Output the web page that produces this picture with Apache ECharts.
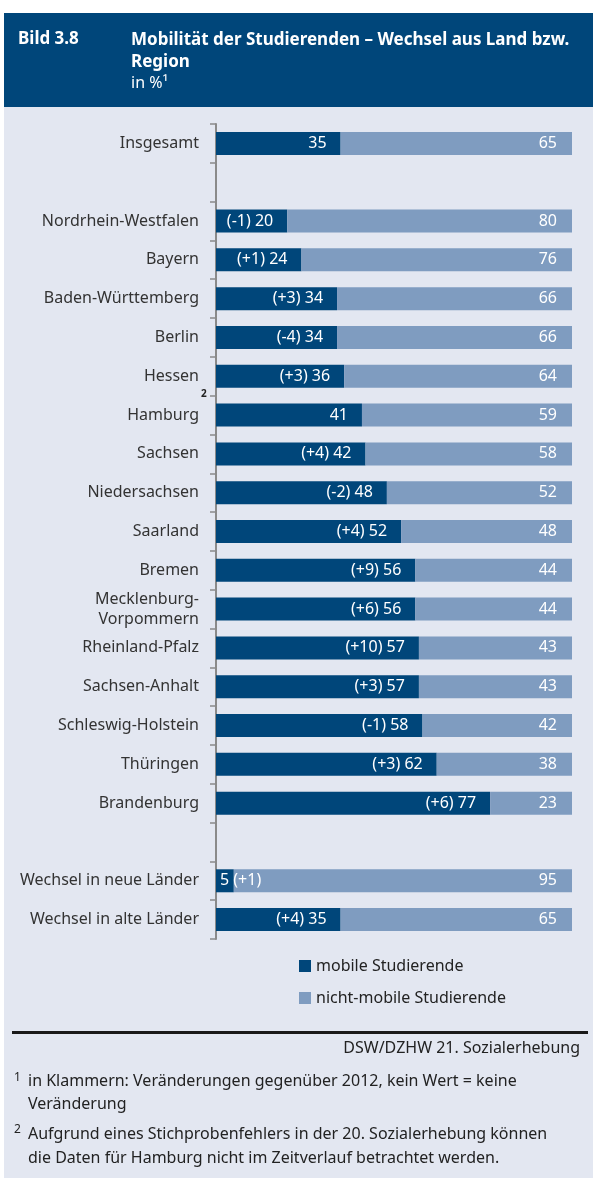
<!DOCTYPE html>
<html><head><meta charset="utf-8">
<script src="https://cdn.jsdelivr.net/npm/echarts@6/dist/echarts.min.js"></script>
<style>html,body{margin:0;padding:0;background:#fff}#c{width:593px;height:1178px}</style>
</head><body><div id="c"></div>
<script>
const categories = ['Insgesamt','','Nordrhein-Westfalen','Bayern','Baden-Württemberg','Berlin','Hessen','Hamburg','Sachsen','Niedersachsen','Saarland','Bremen','Mecklenburg-\nVorpommern','Rheinland-Pfalz','Sachsen-Anhalt','Schleswig-Holstein','Thüringen','Brandenburg','','Wechsel in neue Länder','Wechsel in alte Länder'];
const mobile = [35,null,20,24,34,34,36,41,42,48,52,56,56,57,57,58,62,77,null,5,35];
const nonMobile = [65,null,80,76,66,66,64,59,58,52,48,44,44,43,43,42,38,23,null,95,65];
const changes = ['',null,'-1','+1','+3','-4','+3','','+4','-2','+4','+9','+6','+10','+3','-1','+3','+6',null,'+1','+4'];
const seriesNames = ['mobile Studierende','nicht-mobile Studierende'];

const DARK = '#00467a', LIGHT = '#7f9cc0', BG = '#e3e7f1';
const FONT = '"Noto Sans", sans-serif';

const mobileData = mobile.map((v, i) => {
  if (v === null) return null;
  const chg = changes[i];
  if (v < 10) {
    return { value: v, label: { position: 'insideLeft', distance: 4, formatter: v + (chg ? ' (' + chg + ')' : '') } };
  }
  return { value: v, label: { formatter: (chg ? '(' + chg + ') ' : '') + v } };
});

const chart = echarts.init(document.getElementById('c'), null, { renderer: 'canvas' });
chart.setOption({
  animation: false,
  textStyle: { fontFamily: FONT },
  graphic: [
    { type: 'rect', z: -10, shape: { x: 4, y: 107, width: 589, height: 1071 }, style: { fill: BG } },
    { type: 'rect', z: -10, shape: { x: 4, y: 13, width: 589, height: 94 }, style: { fill: DARK } },
    { type: 'text', left: 18, top: 31, style: { text: 'Bild 3.8', fill: '#fff', font: 'bold 17px ' + FONT } },
    { type: 'text', left: 131, top: 29, style: { text: 'Mobilität der Studierenden – Wechsel aus Land bzw.\nRegion', fill: '#fff', font: 'bold 17px ' + FONT, lineHeight: 22 } },
    { type: 'text', left: 131, top: 75, style: { text: 'in %¹', fill: '#fff', font: '16px ' + FONT } },
    { type: 'text', left: 201, top: 389, style: { text: '2', fill: '#222', font: 'bold 10px ' + FONT } },
    { type: 'rect', shape: { x: 12, y: 1031, width: 576, height: 3 }, style: { fill: '#1a1a1a' } },
    { type: 'text', right: 13, top: 1040, style: { text: 'DSW/DZHW 21. Sozialerhebung', fill: '#222', font: '16px ' + FONT } },
    { type: 'text', left: 14, top: 1072, style: { text: '1', fill: '#222', font: '12px ' + FONT } },
    { type: 'text', left: 28, top: 1070, style: { text: 'in Klammern: Veränderungen gegenüber 2012, kein Wert = keine\nVeränderung', fill: '#222', font: '16px ' + FONT, lineHeight: 23 } },
    { type: 'text', left: 14, top: 1124, style: { text: '2', fill: '#222', font: '12px ' + FONT } },
    { type: 'text', left: 28, top: 1122, style: { text: 'Aufgrund eines Stichprobenfehlers in der 20. Sozialerhebung können\ndie Daten für Hamburg nicht im Zeitverlauf betrachtet werden.', fill: '#222', font: '16px ' + FONT, lineHeight: 24 } }
  ],
  legend: {
    orient: 'vertical', left: 294, top: 953, itemWidth: 12, itemHeight: 12, itemGap: 16,
    icon: 'rect', textStyle: { fontSize: 16, color: '#222', fontFamily: FONT },
    data: seriesNames
  },
  grid: { left: 216, right: 21, top: 124, bottom: 239, containLabel: false },
  xAxis: { type: 'value', min: 0, max: 100, show: false },
  yAxis: {
    type: 'category', inverse: true, data: categories,
    axisLine: { show: true, lineStyle: { color: '#8a8a8a', width: 2 } },
    axisTick: { show: true, length: 6, lineStyle: { color: '#8a8a8a', width: 1.5 } },
    axisLabel: { fontSize: 16, color: '#333', margin: 17, lineHeight: 20, fontFamily: FONT }
  },
  series: [
    { name: seriesNames[0], type: 'bar', stack: 'a', barWidth: 23, data: mobileData,
      itemStyle: { color: DARK },
      label: { show: true, position: 'insideRight', distance: 14, color: '#fff', fontSize: 16, fontFamily: FONT } },
    { name: seriesNames[1], type: 'bar', stack: 'a', barWidth: 23, data: nonMobile,
      itemStyle: { color: LIGHT },
      label: { show: true, position: 'insideRight', distance: 15, color: '#fff', fontSize: 16, fontFamily: FONT } }
  ]
});
</script></body></html>
